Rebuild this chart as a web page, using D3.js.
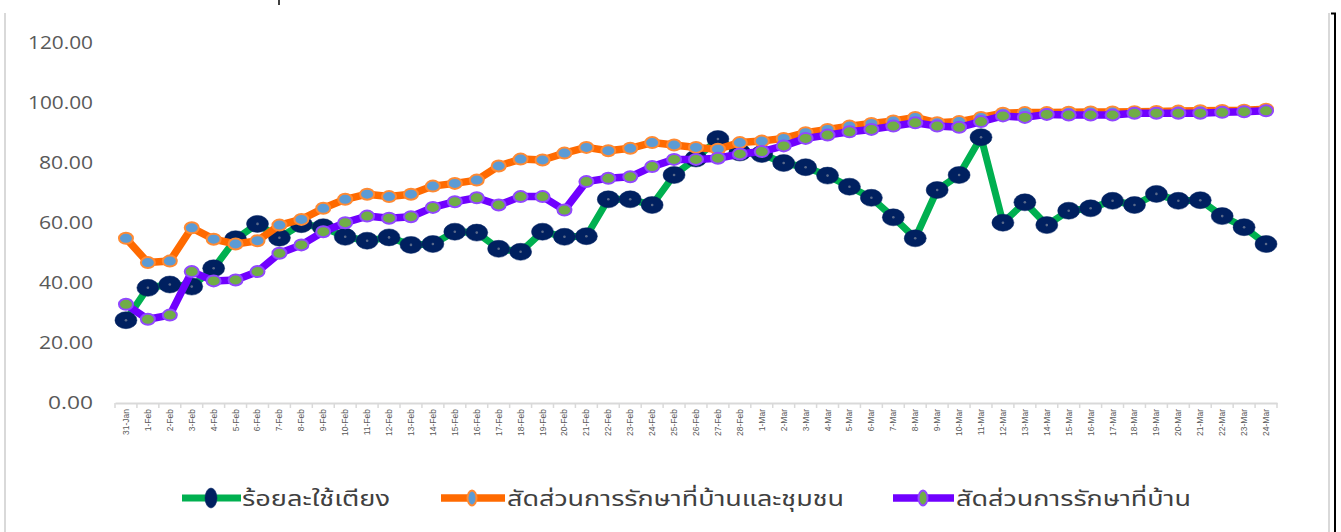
<!DOCTYPE html>
<html>
<head>
<meta charset="utf-8">
<script src="https://cdn.jsdelivr.net/npm/d3@7"></script>
<style>
  body { margin: 0; background: #fff; }
  svg { display: block; }
</style>
</head>
<body>
<div id="chart"></div>
<script>
// categories (dates)
var dates = ["31-Jan",
  "1-Feb","2-Feb","3-Feb","4-Feb","5-Feb","6-Feb","7-Feb","8-Feb","9-Feb","10-Feb",
  "11-Feb","12-Feb","13-Feb","14-Feb","15-Feb","16-Feb","17-Feb","18-Feb","19-Feb","20-Feb",
  "21-Feb","22-Feb","23-Feb","24-Feb","25-Feb","26-Feb","27-Feb","28-Feb",
  "1-Mar","2-Mar","3-Mar","4-Mar","5-Mar","6-Mar","7-Mar","8-Mar","9-Mar","10-Mar",
  "11-Mar","12-Mar","13-Mar","14-Mar","15-Mar","16-Mar","17-Mar","18-Mar","19-Mar","20-Mar",
  "21-Mar","22-Mar","23-Mar","24-Mar"];

// ร้อยละใช้เตียง
var bedUse = [27.6,
  38.4,39.5,38.8,44.9,54.6,59.7,55.1,59.6,58.6,55.4,
  54.1,55.2,52.7,53.0,57.1,56.8,51.4,50.4,57.1,55.4,
  55.6,67.9,67.9,66.0,76.0,81.5,88.0,83.5,
  83.0,80.0,78.6,75.8,72.1,68.4,61.9,54.9,71.0,76.0,
  88.6,60.1,66.9,59.3,64.1,64.9,67.4,66.0,69.7,67.4,
  67.6,62.3,58.6,53.0];

// สัดส่วนการรักษาที่บ้านและชุมชน
var homeCommunity = [54.9,
  46.8,47.3,58.4,54.6,53.0,54.1,59.3,61.2,64.9,67.9,
  69.6,68.8,69.6,72.3,73.2,74.3,79.0,81.3,81.0,83.3,
  85.2,84.1,84.9,86.8,86.0,85.2,84.6,86.8,
  87.3,88.2,90.1,91.2,92.3,93.2,94.0,95.2,93.4,93.8,
  95.2,96.6,96.8,96.8,96.9,97.0,97.0,97.1,97.2,97.3,
  97.4,97.5,97.6,97.9];

// สัดส่วนการรักษาที่บ้าน
var homeOnly = [32.9,
  27.9,29.3,43.8,40.7,41.0,43.8,49.9,52.7,57.1,60.1,
  62.3,61.6,62.1,65.2,67.1,68.4,66.0,68.8,68.8,64.3,
  73.8,74.9,75.4,78.8,81.2,81.2,81.6,83.0,
  83.8,85.7,88.2,89.3,90.4,91.2,92.3,93.4,92.3,91.9,
  93.8,95.7,95.2,96.2,96.0,96.0,96.0,96.6,96.6,96.6,
  96.6,96.9,97.1,97.4];

var yTicks = [0, 20, 40, 60, 80, 100, 120];
var seriesNames = ["ร้อยละใช้เตียง", "สัดส่วนการรักษาที่บ้านและชุมชน", "สัดส่วนการรักษาที่บ้าน"];

var W = 1341, H = 532;
var thaiFont = "'Noto Sans Thai', 'Noto Sans Thai UI', Loma, Garuda, 'Tlwg Typo', Kinnari, 'Noto Sans', sans-serif";

var svg = d3.select('#chart').append('svg')
            .attr('width', W)
            .attr('height', H);

// frame lines
svg.append('line').attr('x1', 5).attr('x2', 5).attr('y1', 13).attr('y2', H)
   .attr('stroke', '#d9d9d9').attr('stroke-width', 2);
svg.append('line').attr('x1', 1329).attr('x2', 1329).attr('y1', 13).attr('y2', H)
   .attr('stroke', '#d9d9d9').attr('stroke-width', 2);
svg.append('path').attr('d', 'M1331,13.5H1335V' + H)
   .attr('fill', 'none').attr('stroke', '#000').attr('stroke-width', 2);
// clipped remnant of text above the frame
svg.append('line').attr('x1', 279).attr('x2', 279).attr('y1', 0).attr('y2', 5)
   .attr('stroke', '#000').attr('stroke-width', 1.5);

var x = d3.scaleBand()
          .domain(dates)
          .range([115, 1277])
          .padding(0);

var y = d3.scaleLinear()
          .domain([0, 120])
          .range([403, 43]);

var cx = function(d, i) { return x(dates[i]) + x.bandwidth() / 2; };

// y axis labels (no axis line)
var y_axis = d3.axisLeft(y)
               .tickValues(yTicks)
               .tickSize(0)
               .tickPadding(0)
               .tickFormat(d3.format('.2f'));

var gy = svg.append('g')
            .attr('transform', 'translate(93,0)')
            .call(y_axis);
gy.select('.domain').remove();
gy.selectAll('text')
  .attr('fill', '#595959')
  .attr('font-family', "'Open Sans', 'Noto Sans', sans-serif")
  .attr('font-size', 18)
  .attr('textLength', function(d) { return d >= 100 ? 65 : (d === 0 ? 45 : 54); })
  .attr('lengthAdjust', 'spacingAndGlyphs');

// x axis
var x_axis = d3.axisBottom(x)
               .tickSize(0)
               .tickPadding(6);

var gx = svg.append('g')
            .attr('transform', 'translate(0,403)')
            .call(x_axis);
gx.select('.domain').attr('stroke', '#d9d9d9').attr('stroke-width', 2);
gx.selectAll('text')
  .attr('fill', '#595959')
  .attr('font-family', "'Liberation Sans', Arial, sans-serif")
  .attr('font-size', 8.5)
  .attr('transform', 'rotate(-90)')
  .attr('dy', '0.35em')
  .attr('y', 0)
  .attr('x', -6)
  .style('text-anchor', 'end');

// tick marks at category boundaries
gx.selectAll('.bound')
  .data(dates.concat(['end']))
  .enter().append('line')
  .attr('class', 'bound')
  .attr('x1', function(d, i) { return x.range()[0] + i * x.bandwidth(); })
  .attr('x2', function(d, i) { return x.range()[0] + i * x.bandwidth(); })
  .attr('y1', 0).attr('y2', 5)
  .attr('stroke', '#d9d9d9').attr('stroke-width', 1.5);

var line = d3.line()
             .x(cx)
             .y(function(d) { return y(d); });

var series = [
  { name: seriesNames[0], values: bedUse, line: '#00b050', lw: 7,
    fill: '#002060', stroke: '#002060', rx: 11, ry: 8.5, sw: 0.5 },
  { name: seriesNames[1], values: homeCommunity, line: '#ff6a00', lw: 7.5,
    fill: '#5b9bd5', stroke: '#ff8a33', rx: 7, ry: 5.5, sw: 2 },
  { name: seriesNames[2], values: homeOnly, line: '#7000ff', lw: 7.5,
    fill: '#70ad47', stroke: '#9147ff', rx: 7, ry: 5.5, sw: 2 }
];

series.forEach(function(s) {
  var g = svg.append('g');
  g.append('path')
   .datum(s.values)
   .attr('fill', 'none')
   .attr('stroke', s.line)
   .attr('stroke-width', s.lw)
   .attr('stroke-linejoin', 'round')
   .attr('d', line);
  g.selectAll('ellipse')
   .data(s.values)
   .enter().append('ellipse')
   .attr('cx', cx)
   .attr('cy', function(d) { return y(d); })
   .attr('rx', s.rx)
   .attr('ry', s.ry)
   .attr('fill', s.fill)
   .attr('stroke', s.stroke)
   .attr('stroke-width', s.sw);
  if (s === series[0]) {
    g.selectAll('circle')
     .data(s.values)
     .enter().append('circle')
     .attr('cx', cx)
     .attr('cy', function(d) { return y(d); })
     .attr('r', 1.3)
     .attr('fill', '#5a6a8a');
  }
});

// legend
var legendPos = [
  { x0: 182, x1: 241, mx: 211, tx: 242, tw: 148 },
  { x0: 441, x1: 505, mx: 472, tx: 507, tw: 337 },
  { x0: 893, x1: 954, mx: 923, tx: 956, tw: 235 }
];
var legendMark = [
  { rx: 6, ry: 10 },
  { rx: 4.5, ry: 7.5 },
  { rx: 4.5, ry: 7.5 }
];

var legend = svg.append('g').attr('transform', 'translate(0,498)');
series.forEach(function(s, i) {
  var p = legendPos[i];
  legend.append('line')
        .attr('x1', p.x0).attr('x2', p.x1)
        .attr('stroke', s.line).attr('stroke-width', s.lw);
  legend.append('ellipse')
        .attr('cx', p.mx).attr('rx', legendMark[i].rx).attr('ry', legendMark[i].ry)
        .attr('fill', s.fill).attr('stroke', s.stroke).attr('stroke-width', s.sw);
  legend.append('text')
        .attr('x', p.tx).attr('y', 8)
        .attr('font-family', thaiFont)
        .attr('font-size', 21)
        .attr('fill', '#404040')
        .attr('textLength', p.tw)
        .attr('lengthAdjust', 'spacingAndGlyphs')
        .text(s.name);
});
</script>
</body>
</html>
